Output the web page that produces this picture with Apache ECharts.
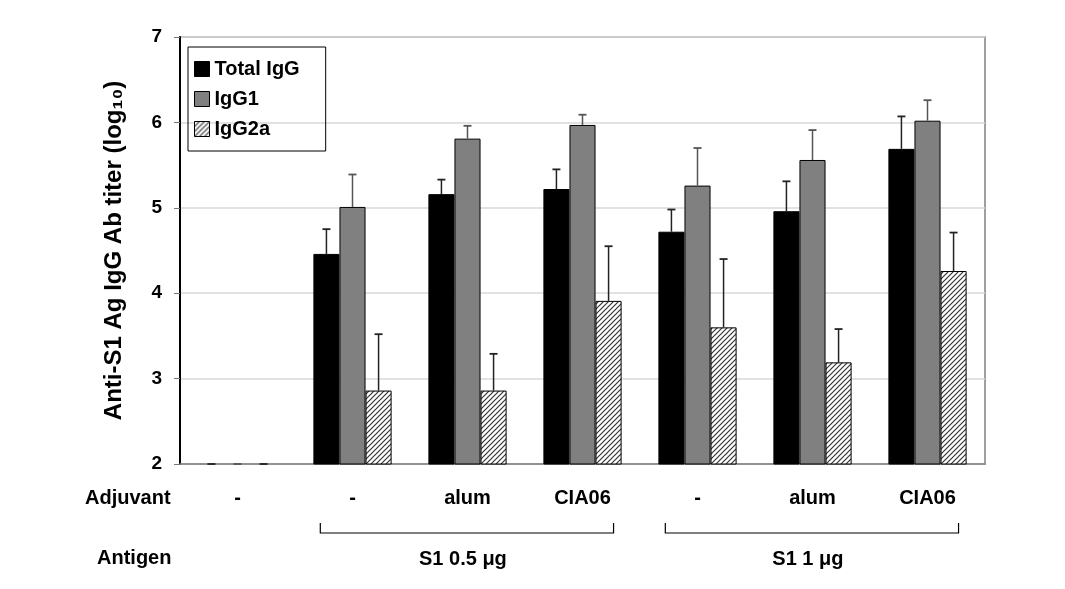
<!DOCTYPE html>
<html><head><meta charset="utf-8">
<script src="https://cdn.jsdelivr.net/npm/echarts@6/dist/echarts.min.js"></script>
<style>html,body{margin:0;padding:0;background:#fff}#c{width:1065px;height:589px}</style>
</head><body><div id="c"></div>
<script>
const categories = ['-', '-', 'alum', 'CIA06', '-', 'alum', 'CIA06'];
const seriesNames = ['Total IgG', 'IgG1', 'IgG2a'];
const totalIgG    = [2, 4.46, 5.16, 5.22, 4.72, 4.96, 5.69];
const totalIgGErr = [2, 4.75, 5.33, 5.45, 4.98, 5.31, 6.07];
const igG1        = [2, 5.01, 5.81, 5.97, 5.26, 5.56, 6.02];
const igG1Err     = [2, 5.39, 5.96, 6.09, 5.70, 5.91, 6.26];
const igG2a       = [2, 2.86, 2.86, 3.91, 3.60, 3.19, 4.26];
const igG2aErr    = [2, 3.52, 3.29, 4.55, 4.40, 3.58, 4.71];
const yMin = 2, yMax = 7, yStep = 1;
const rowLabels = ['Adjuvant', 'Antigen'];
const antigenGroups = [
  { label: 'S1 0.5 μg', from: 1, to: 3 },
  { label: 'S1 1 μg', from: 4, to: 6 }
];

const FONT = 'Arial, "Liberation Sans", sans-serif';
const GAP = 0.32;

function hatch() {
  const s = 5;
  const c = document.createElement('canvas');
  c.width = c.height = s;
  const g = c.getContext('2d');
  g.fillStyle = '#fff'; g.fillRect(0, 0, s, s);
  g.strokeStyle = '#333'; g.lineWidth = 1.2;
  g.beginPath();
  g.moveTo(0, s); g.lineTo(s, 0);
  g.moveTo(-1, 1); g.lineTo(1, -1);
  g.moveTo(s - 1, s + 1); g.lineTo(s + 1, s - 1);
  g.stroke();
  return c;
}
const colors = ['#000000', '#808080', { image: hatch(), repeat: 'repeat' }];
const values = [totalIgG, igG1, igG2a];
const errs = [totalIgGErr, igG1Err, igG2aErr];

function barSeries(k) {
  return {
    name: seriesNames[k], type: 'bar', barGap: '0%', barCategoryGap: (GAP * 100) + '%',
    data: values[k].map(v => ({ value: v, itemStyle: { borderWidth: v <= yMin ? 0 : 1 } })),
    itemStyle: { color: colors[k], borderColor: '#000', borderWidth: 1 },
    z: 2
  };
}
function errSeries(k) {
  return {
    type: 'custom', name: seriesNames[k] + ' err', silent: true, z: 5, clip: false,
    data: values[k].map((v, i) => [i, v, errs[k][i]]),
    encode: { x: 0, y: [1, 2] },
    renderItem: (params, api) => {
      const i = api.value(0);
      const band = api.size([1, 0])[0];
      const bw = band * (1 - GAP) / 3;
      const off = (k - 1) * bw;
      const p0 = api.coord([i, api.value(1)]);
      const p1 = api.coord([i, api.value(2)]);
      const x = p0[0] + off;
      const col = k === 1 ? '#555' : '#222';
      return { type: 'group', children: [
        { type: 'line', shape: { x1: x, y1: p0[1], x2: x, y2: p1[1] }, style: { stroke: col, lineWidth: 1.5 } },
        { type: 'line', shape: { x1: x - 4, y1: p1[1], x2: x + 4, y2: p1[1] }, style: { stroke: col, lineWidth: 1.8 } }
      ] };
    }
  };
}

const chart = echarts.init(document.getElementById('c'), null, { renderer: 'canvas' });
chart.setOption({
  animation: false,
  backgroundColor: '#fff',
  textStyle: { fontFamily: FONT },
  grid: { left: 180, right: 80, top: 37, bottom: 125, show: true, borderColor: '#808080', borderWidth: 1.5 },
  legend: {
    data: seriesNames, orient: 'vertical', left: 188, top: 47,
    borderColor: '#000', borderWidth: 1, padding: [12, 26, 12, 6],
    itemWidth: 15, itemHeight: 15, itemGap: 10, icon: 'rect', selectedMode: false,
    textStyle: { fontFamily: FONT, fontWeight: 'bold', fontSize: 20, color: '#000' },
    itemStyle: { borderColor: '#000', borderWidth: 1 }
  },
  xAxis: {
    type: 'category', data: categories,
    axisLine: { lineStyle: { color: '#808080', width: 1.5 } },
    axisTick: { show: false },
    axisLabel: { fontFamily: FONT, fontWeight: 'bold', fontSize: 20, color: '#000', margin: 24 }
  },
  yAxis: {
    type: 'value', min: yMin, max: yMax, interval: yStep,
    name: 'Anti-S1 Ag IgG Ab titer (log₁₀)', nameLocation: 'middle', nameGap: 54,
    nameTextStyle: { fontFamily: FONT, fontWeight: 'bold', fontSize: 24, color: '#000' },
    axisLine: { show: true, lineStyle: { color: '#000', width: 2 } },
    axisTick: { show: true, length: 6, lineStyle: { color: '#777' } },
    axisLabel: { fontFamily: FONT, fontWeight: 'bold', fontSize: 19, color: '#000', margin: 18 },
    splitLine: { lineStyle: { color: '#d9d9d9', width: 1.5 } }
  },
  series: [0, 1, 2].map(barSeries).concat([0, 1, 2].map(errSeries))
});

const band = chart.convertToPixel({ xAxisIndex: 0 }, 1) - chart.convertToPixel({ xAxisIndex: 0 }, 0);
const graphics = [
  { type: 'text', left: 85, top: 488, style: { text: rowLabels[0], font: 'bold 20px ' + FONT, fill: '#000' } },
  { type: 'text', left: 97, top: 548, style: { text: rowLabels[1], font: 'bold 20px ' + FONT, fill: '#000' } }
];
antigenGroups.forEach(g => {
  const x1 = chart.convertToPixel({ xAxisIndex: 0 }, g.from) - band * 0.28;
  const x2 = chart.convertToPixel({ xAxisIndex: 0 }, g.to) + band * 0.27;
  graphics.push({ type: 'polyline', shape: { points: [[x1, 523], [x1, 533], [x2, 533], [x2, 523]] },
    style: { stroke: '#000', lineWidth: 1.2, fill: null } });
  graphics.push({ type: 'text', x: (x1 + x2) / 2 - 4, y: 559,
    style: { text: g.label, font: 'bold 20px ' + FONT, fill: '#000', align: 'center', verticalAlign: 'middle' } });
});
chart.setOption({ graphic: graphics });
</script>
</body></html>
